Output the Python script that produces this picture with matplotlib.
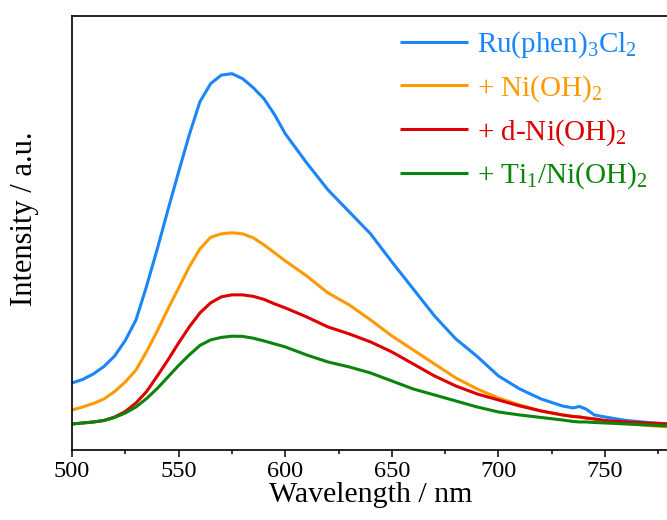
import matplotlib
matplotlib.use("Agg")
import matplotlib.pyplot as plt
from matplotlib.ticker import MultipleLocator

plt.rcParams["font.family"] = ["Liberation Serif", "DejaVu Serif"]
plt.rcParams["mathtext.fontset"] = "custom"
plt.rcParams["mathtext.rm"] = "Liberation Serif"
plt.rcParams["mathtext.it"] = "Liberation Serif:italic"

BLUE   = "#1A86FA"
ORANGE = "#FF9A05"
RED    = "#DC0000"
GREEN  = "#0B840B"

wavelength = [500, 505, 510, 515, 520, 525, 530, 535, 540, 545, 550, 555, 560,
              565, 570, 575, 580, 585, 590, 595, 600, 610, 620, 630, 640, 650,
              660, 670, 680, 690, 700, 710, 720, 730, 735, 738, 741, 745, 750,
              760, 770, 780]

ru_phen = [67, 70.5, 76, 83.5, 94, 109.5, 130, 164, 201, 240, 278, 315, 348,
           366, 374.5, 376, 371, 362, 351, 335, 316, 287, 260, 238, 216, 188,
           161, 134, 111, 93.5, 74, 61, 51, 44, 42, 43.5, 41, 35, 33,
           29.5, 27.5, 26]
ni_oh2 = [40, 43, 46.5, 51, 58.5, 68, 80, 98.5, 119, 141, 162, 183, 201,
          212.5, 216, 217, 216, 212, 205, 197, 189, 174, 157, 145, 130, 114,
          100, 86, 72, 61, 52, 45, 39, 35, 33.5, 33, 32, 31, 29,
          26.5, 24.5, 23]
d_ni_oh2 = [26, 27, 28, 29.5, 33, 38.5, 47, 58.5, 74, 90, 107, 123, 137,
            147, 153, 155, 155, 153.5, 150.5, 146, 142, 133, 123, 116, 108, 98,
            86, 74, 64, 56, 50, 44, 39, 35, 33.5, 33, 32, 31, 29.5,
            28, 27, 26]
ti_ni_oh2 = [26, 27, 28, 29.5, 32.5, 37, 43, 51.5, 61.5, 73, 84.5, 95, 104.5,
             110, 112.5, 113.7, 113.5, 111.7, 109, 106, 103, 95, 88, 83, 77, 69,
             61, 55, 49, 43, 38, 35, 32.5, 30, 28.5, 28, 28, 27.5, 27,
             26, 25, 24]

series = [
    (ru_phen, BLUE, r"Ru(phen)$_3$Cl$_2$"),
    (ni_oh2, ORANGE, r"+ Ni(OH)$_2$"),
    (d_ni_oh2, RED, r"+ d-Ni(OH)$_2$"),
    (ti_ni_oh2, GREEN, r"+ Ti$_1$/Ni(OH)$_2$"),
]

fig = plt.figure(figsize=(6.67, 5.2), dpi=100)
ax = fig.add_axes([0.108, 0.1346, 0.895, 0.8354])

for y, c, lab in series:
    ax.plot(wavelength, y, color=c, lw=2.2, label=lab,
            solid_joinstyle="round", solid_capstyle="butt")

ax.set_xlim(500, 780)
ax.set_ylim(0, 434)
ax.xaxis.set_major_locator(MultipleLocator(50))
ax.xaxis.set_minor_locator(MultipleLocator(25))
ax.tick_params(axis="x", which="major", length=5, width=1.1, labelsize=17.5, pad=3)
ax.tick_params(axis="x", which="minor", length=3, width=1.1)
ax.set_yticks([])
for spine in ax.spines.values():
    spine.set_linewidth(1.2)

ax.set_xlabel("Wavelength / nm", fontsize=21.5, labelpad=0)
ax.set_ylabel("Intensity / a.u.", fontsize=22)
ax.yaxis.set_label_coords(-0.055, 0.532)

leg = ax.legend(loc="upper right", bbox_to_anchor=(0.984, 0.995), frameon=False,
                fontsize=21, handlelength=2.33, handletextpad=0.3,
                labelspacing=0.45, borderaxespad=0)
for txt, (_, c, _) in zip(leg.get_texts(), series):
    txt.set_color(c)

fig.savefig("out.png", dpi=100)
